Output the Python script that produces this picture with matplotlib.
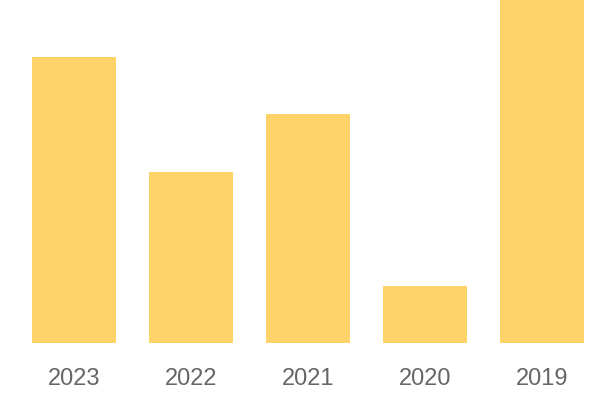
import matplotlib.pyplot as plt

years = ["2023", "2022", "2021", "2020", "2019"]
values = [5, 3, 4, 1, 6]

BAR_COLOR = "#FED46A"
TEXT_COLOR = "#666666"

fig = plt.figure(figsize=(6, 4), dpi=100)
ax = fig.add_axes([15.5 / 600, 57 / 400, 585 / 600, 343 / 400])

x = range(len(years))
ax.bar(x, values, width=0.72, color=BAR_COLOR)
ax.set_xlim(-0.5, len(years) - 0.5)
ax.set_ylim(0, 6)

ax.set_xticks(list(x))
ax.set_xticklabels(years, fontfamily="Liberation Sans", fontsize=17, color=TEXT_COLOR)
ax.tick_params(axis="x", length=0, pad=18)
ax.set_yticks([])
for spine in ax.spines.values():
    spine.set_visible(False)

fig.savefig("out.png", dpi=100)
